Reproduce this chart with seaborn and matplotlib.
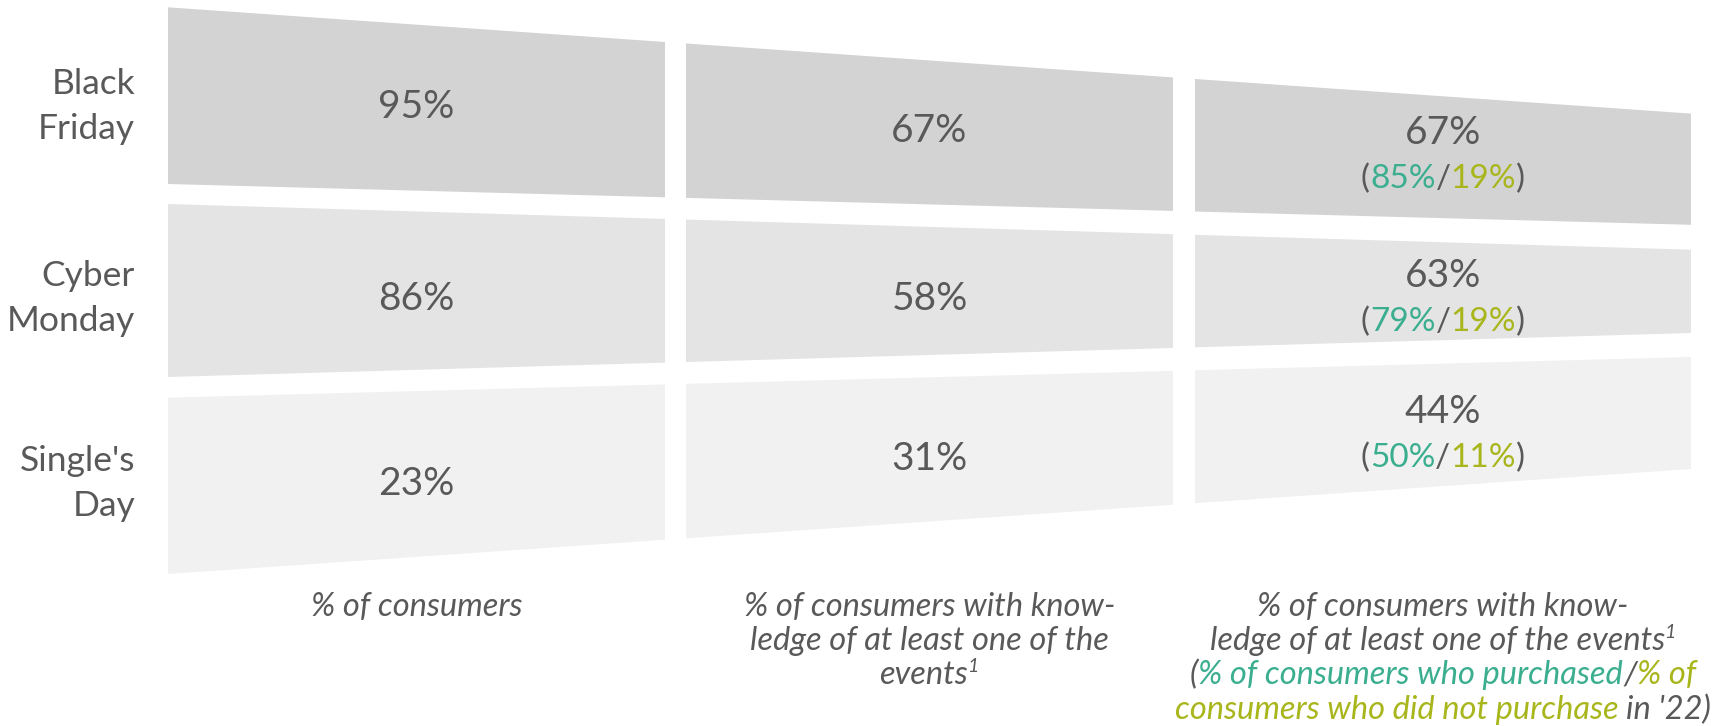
import numpy as np
import matplotlib
matplotlib.use("Agg")
import matplotlib.pyplot as plt
import seaborn as sns

# ---------------- data ----------------
events = ["Black Friday", "Cyber Monday", "Single's Day"]
event_lines = [["Black", "Friday"], ["Cyber", "Monday"], ["Single's", "Day"]]
pct_consumers = [95, 86, 23]
pct_knowledge = [67, 58, 31]
pct_knowledge_total = [67, 63, 44]
pct_purchased = [85, 79, 50]
pct_not_purchased = [19, 19, 11]

# ---------------- style ----------------
sns.set_theme(style="white")
plt.rcParams["font.family"] = ["Lato", "DejaVu Sans"]

GREY_TXT = "#595959"
TEAL = "#3AAE8F"
OLIVE = "#A8B61C"
row_fill = ["#D3D3D3", "#E4E4E4", "#F1F1F1"]

W, H = 1722, 726
fig = plt.figure(figsize=(W / 100, H / 100), dpi=100)
ax = fig.add_axes([0, 0, 1, 1])
ax.set_xlim(0, W)
ax.set_ylim(H, 0)
ax.axis("off")

# layout: column extents and perspective edge lines (y at left x=168 and right x=1691)
cols = [(168, 665), (686, 1173), (1195, 1691)]
XL, XR = 168, 1691
row_top = [(7.3, 113.6), (204, 249.7), (397.7, 357)]
row_bot = [(184, 224.8), (377, 333), (574, 469)]
row_dy = [-4, 5, 7]


def line_y(edge, x):
    y0, y1 = edge
    return y0 + (y1 - y0) * (x - XL) / (XR - XL)


renderer = fig.canvas.get_renderer()


def text_width(t):
    return t.get_window_extent(renderer).width


def draw_pieces(pieces, cx, y, size, style="normal", sup_scale=0.6):
    """pieces: list of (text, color, is_sup); draws a centered line at baseline y."""
    probe_a = ax.text(0, 0, "aa", fontsize=size, style=style)
    probe_b = ax.text(0, 0, "a a", fontsize=size, style=style)
    space_w = text_width(probe_b) - text_width(probe_a)
    probe_a.remove(); probe_b.remove()
    items = []
    total = 0.0
    for s, c, sup in pieces:
        lead = len(s) - len(s.lstrip(" "))
        s2 = s.lstrip(" ")
        fs = size * sup_scale if sup else size
        t = ax.text(0, 0, s2, fontsize=fs, color=c, style=style,
                    ha="left", va="baseline")
        w = text_width(t)
        gap = lead * space_w
        items.append((t, gap, w, sup))
        total += gap + w
    x = cx - total / 2
    for t, gap, w, sup in items:
        x += gap
        yy = y - (size * 100 / 72) * 0.38 if sup else y
        t.set_position((x, yy))
        x += w


NUM_SIZE = 28
SUB_SIZE = 24
LBL_SIZE = 25.5
cap_num = NUM_SIZE * 100 / 72 * 0.72
cap_sub = SUB_SIZE * 100 / 72 * 0.72
cap_lbl = LBL_SIZE * 100 / 72 * 0.72

values_by_col = [pct_consumers, pct_knowledge, pct_knowledge_total]

for r in range(3):
    for c, (x0, x1) in enumerate(cols):
        xs = [x0, x1, x1, x0]
        ys = [line_y(row_top[r], x0), line_y(row_top[r], x1),
              line_y(row_bot[r], x1), line_y(row_bot[r], x0)]
        ax.fill(xs, ys, color=row_fill[r], lw=0)
        cx = (x0 + x1) / 2
        cy = (line_y(row_top[r], cx) + line_y(row_bot[r], cx)) / 2 + row_dy[r]
        if c < 2:
            ax.text(cx, cy + cap_num / 2, f"{values_by_col[c][r]}%", fontsize=NUM_SIZE,
                    color=GREY_TXT, ha="center", va="baseline")
        else:
            ax.text(cx, cy - 23 + cap_num / 2, f"{values_by_col[c][r]}%", fontsize=NUM_SIZE,
                    color=GREY_TXT, ha="center", va="baseline")
            draw_pieces([("(", GREY_TXT, False), (f"{pct_purchased[r]}%", TEAL, False),
                         ("/", GREY_TXT, False), (f"{pct_not_purchased[r]}%", OLIVE, False),
                         (")", GREY_TXT, False)],
                        cx, cy + 23 + cap_sub / 2, SUB_SIZE)
        if c == 0:
            for k, ln in enumerate(event_lines[r]):
                ax.text(135, cy + (k - 0.5) * 45 + cap_lbl / 2, ln, fontsize=LBL_SIZE,
                        color=GREY_TXT, ha="right", va="baseline")

# column captions
CAP_SIZE = 23.5
base = [616, 650, 684.5, 719]
col_captions = [
    [[("% of consumers", GREY_TXT, False)]],
    [[("% of consumers with know-", GREY_TXT, False)],
     [("ledge of at least one of the", GREY_TXT, False)],
     [("events", GREY_TXT, False), ("1", GREY_TXT, True)]],
    [[("% of consumers with know-", GREY_TXT, False)],
     [("ledge of at least one of the events", GREY_TXT, False), ("1", GREY_TXT, True)],
     [("(", GREY_TXT, False), ("% of consumers who purchased", TEAL, False),
      ("/", GREY_TXT, False), ("% of", OLIVE, False)],
     [("consumers who did not purchase", OLIVE, False), (" in '22)", GREY_TXT, False)]],
]
for c, (x0, x1) in enumerate(cols):
    cx = (x0 + x1) / 2
    for k, pieces in enumerate(col_captions[c]):
        draw_pieces(pieces, cx, base[k], CAP_SIZE, style="italic")

fig.savefig("out.png", dpi=100)
